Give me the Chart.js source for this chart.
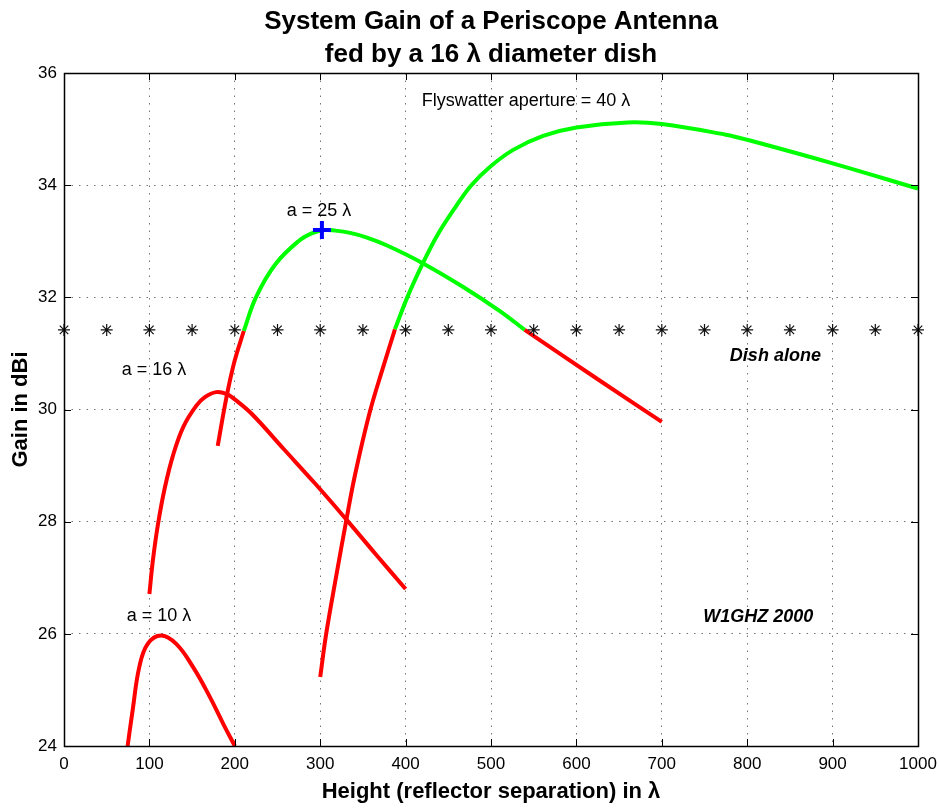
<!DOCTYPE html>
<html>
<head>
<meta charset="utf-8">
<script src="https://cdn.jsdelivr.net/npm/chart.js@4"></script>
<style>
  body { margin: 0; background: #fff; }
  #wrap { width: 939px; height: 810px; }
</style>
</head>
<body>
<div id="wrap"><canvas id="gainChart" width="939" height="810"></canvas></div>
<script>
// values (x = height in lambda, y = gain in dBi)
const a10X = [74.5, 80.4, 88.2, 98, 113.7, 131.4, 151, 170.6, 186.3, 200];
const a10Y = [24.0, 24.64, 25.41, 25.82, 25.97, 25.82, 25.41, 24.88, 24.4, 24.0];

const a16X = [100, 104, 110, 118, 128, 140, 155, 165, 178, 190, 200, 220, 257, 294, 330, 365, 400];
const a16Y = [26.71, 27.3, 27.95, 28.6, 29.2, 29.7, 30.07, 30.22, 30.31, 30.28, 30.18, 29.92, 29.3, 28.68, 28.05, 27.42, 26.8];

const a25LowX = [180, 190, 199.5, 210.5];
const a25LowY = [29.35, 30.2, 30.85, 31.4];
const a25GreenX = [210.5, 225, 248, 276, 290, 305, 318, 335, 354, 379, 420, 467, 510, 539.5];
const a25GreenY = [31.4, 32.01, 32.6, 33.02, 33.14, 33.2, 33.19, 33.15, 33.07, 32.92, 32.61, 32.19, 31.76, 31.42];
const a25HighX = [539.5, 625, 700];
const a25HighY = [31.42, 30.54, 29.78];

const a40RedX = [300, 307, 319, 330.5, 341, 358, 373, 387.5];
const a40RedY = [25.23, 26.0, 27.05, 28.02, 28.85, 29.95, 30.72, 31.43];
const a40GreenX = [387.5, 402, 420, 438, 458, 477, 499, 526, 561, 600, 660, 700, 775, 800, 900, 1000];
const a40GreenY = [31.43, 32.0, 32.6, 33.13, 33.6, 34.0, 34.33, 34.63, 34.88, 35.03, 35.12, 35.09, 34.9, 34.81, 34.39, 33.94];

const dishX = [0, 50, 100, 150, 200, 250, 300, 350, 400, 450, 500, 550, 600, 650, 700, 750, 800, 850, 900, 950, 1000];
const dishY = [31.42, 31.42, 31.42, 31.42, 31.42, 31.42, 31.42, 31.42, 31.42, 31.42, 31.42, 31.42, 31.42, 31.42, 31.42, 31.42, 31.42, 31.42, 31.42, 31.42, 31.42];

const bestX = [302];
const bestY = [33.2];

const xTicks = [0, 100, 200, 300, 400, 500, 600, 700, 800, 900, 1000];
const yTicks = [24, 26, 28, 30, 32, 34, 36];

const notes = [
  { text: "Flyswatter aperture = 40 \u03bb", x: 541, y: 35.5, font: "18px 'Liberation Sans', Arial, sans-serif" },
  { text: "a = 25 \u03bb", x: 298.6, y: 33.54, font: "18px 'Liberation Sans', Arial, sans-serif" },
  { text: "a = 16 \u03bb", x: 105.4, y: 30.7, font: "18px 'Liberation Sans', Arial, sans-serif" },
  { text: "a = 10 \u03bb", x: 111.2, y: 26.31, font: "18px 'Liberation Sans', Arial, sans-serif" },
  { text: "Dish alone", x: 833, y: 30.95, font: "italic bold 18px 'Liberation Sans', Arial, sans-serif" },
  { text: "W1GHZ 2000", x: 813, y: 26.3, font: "italic bold 18px 'Liberation Sans', Arial, sans-serif" }
];

const FONT = "'Liberation Sans', Arial, Helvetica, sans-serif";

function toPoints(xs, ys) {
  return xs.map((x, i) => ({ x: x, y: ys[i] }));
}

function curve(xs, ys, color) {
  return {
    data: toPoints(xs, ys),
    showLine: true,
    borderColor: color,
    backgroundColor: color,
    borderWidth: 4,
    pointRadius: 0,
    pointHoverRadius: 0,
    tension: 0.4,
    borderCapStyle: "butt",
    order: 2
  };
}

// box round the axes, inward ticks and the text notes
const framePlugin = {
  id: "frame",
  afterDatasetsDraw(chart) {
    const { ctx, chartArea: a, scales } = chart;
    const len = 7;
    ctx.save();
    ctx.strokeStyle = "#000";
    ctx.lineWidth = 1;
    ctx.beginPath();
    xTicks.forEach((v) => {
      const px = Math.round(scales.x.getPixelForValue(v)) + 0.5;
      ctx.moveTo(px, a.bottom); ctx.lineTo(px, a.bottom - len);
      ctx.moveTo(px, a.top); ctx.lineTo(px, a.top + len);
    });
    yTicks.forEach((v) => {
      const py = Math.round(scales.y.getPixelForValue(v)) + 0.5;
      ctx.moveTo(a.left, py); ctx.lineTo(a.left + len, py);
      ctx.moveTo(a.right, py); ctx.lineTo(a.right - len, py);
    });
    ctx.stroke();
    ctx.lineWidth = 1.5;
    ctx.strokeRect(Math.round(a.left) + 0.5, Math.round(a.top) + 0.5, Math.round(a.right - a.left), Math.round(a.bottom - a.top));

    ctx.fillStyle = "#000";
    ctx.textAlign = "center";
    ctx.textBaseline = "middle";
    notes.forEach((n) => {
      ctx.font = n.font;
      ctx.fillText(n.text, scales.x.getPixelForValue(n.x), scales.y.getPixelForValue(n.y));
    });
    ctx.restore();
  }
};

const gridColor = "rgba(0,0,0,0.55)";

new Chart(document.getElementById("gainChart"), {
  type: "scatter",
  data: {
    datasets: [
      {
        data: toPoints(bestX, bestY),
        pointStyle: "cross",
        pointRadius: 9,
        pointBorderWidth: 4,
        borderColor: "#0000ff",
        backgroundColor: "#0000ff",
        order: 0
      },
      {
        data: toPoints(dishX, dishY),
        pointStyle: "star",
        pointRadius: 6,
        pointBorderWidth: 1.2,
        borderColor: "#111",
        backgroundColor: "#111",
        clip: false,
        order: 1
      },
      curve(a10X, a10Y, "#ff0000"),
      curve(a16X, a16Y, "#ff0000"),
      curve(a25LowX, a25LowY, "#ff0000"),
      curve(a25HighX, a25HighY, "#ff0000"),
      curve(a40RedX, a40RedY, "#ff0000"),
      curve(a25GreenX, a25GreenY, "#00ff00"),
      curve(a40GreenX, a40GreenY, "#00ff00")
    ]
  },
  options: {
    responsive: false,
    animation: false,
    events: [],
    layout: { padding: { left: 0, right: 21, top: 0, bottom: 0 } },
    plugins: {
      legend: { display: false },
      tooltip: { enabled: false },
      title: {
        display: true,
        fullSize: false,
        text: ["System Gain of a Periscope Antenna", "fed by a 16 \u03bb diameter dish"],
        color: "#000",
        font: { family: FONT, size: 26, weight: "bold", lineHeight: 1.27 },
        padding: { top: 5, bottom: 2 }
      }
    },
    scales: {
      x: {
        type: "linear",
        min: 0,
        max: 1000,
        afterFit: (s) => { s.height = 64; s.paddingRight = 0; s.paddingLeft = 0; },
        afterBuildTicks: (s) => { s.ticks = xTicks.map((v) => ({ value: v })); },
        ticks: { color: "#000", font: { family: FONT, size: 17 }, padding: 8, maxRotation: 0, callback: (v) => String(v) },
        grid: { color: gridColor, lineWidth: 1, drawTicks: false },
        border: { display: false, dash: [1.5, 6] },
        title: {
          display: true,
          text: "Height (reflector separation) in \u03bb",
          color: "#000",
          font: { family: FONT, size: 22, weight: "bold" },
          padding: { top: 0, bottom: 5 }
        }
      },
      y: {
        type: "linear",
        min: 24,
        max: 36,
        afterFit: (s) => { s.width = 64; },
        afterBuildTicks: (s) => { s.ticks = yTicks.map((v) => ({ value: v })); },
        ticks: { color: "#000", font: { family: FONT, size: 17 }, padding: 7, callback: (v) => String(v) },
        grid: { color: gridColor, lineWidth: 1, drawTicks: false },
        border: { display: false, dash: [1.5, 6] },
        title: {
          display: true,
          text: "Gain in dBi",
          color: "#000",
          font: { family: FONT, size: 22, weight: "bold" },
          padding: { top: 8, bottom: 0 }
        }
      }
    }
  },
  plugins: [framePlugin]
});
</script>
</body>
</html>
